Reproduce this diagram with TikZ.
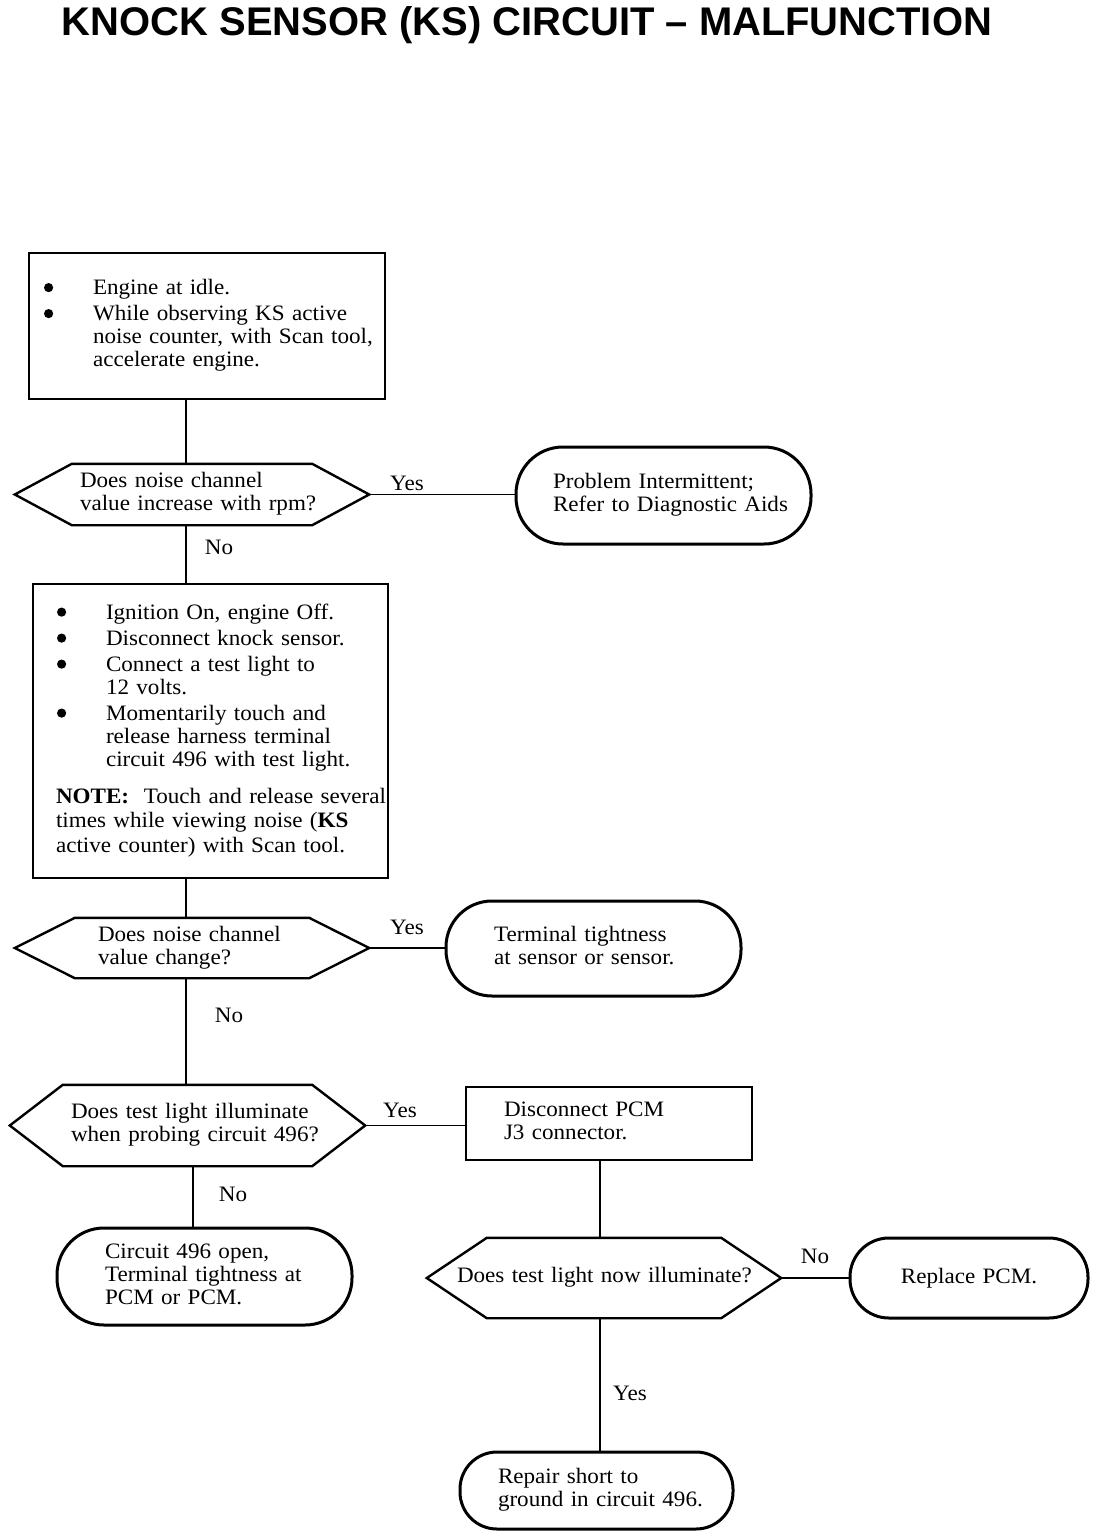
\documentclass[tikz,border=0pt]{standalone}
\usepackage{fontspec}
\setmainfont{Liberation Serif}[FakeStretch=1.05]
\newfontfamily\titlefont{Liberation Sans}
\usepackage{graphicx}
\newcommand\lns[1]{\begin{tabular}[c]{@{}l@{}}#1\end{tabular}}
\newcommand\bul{\makebox[50pt][l]{\hspace*{1pt}\tikz[baseline=-7pt]\fill (0pt,0pt) circle (4.6pt);}}
\newcommand\ind{\hspace*{50pt}}
\begin{document}
\begin{tikzpicture}[x=1pt,y=-1pt,
  every node/.style={font=\fontsize{22}{23}\selectfont},
  conn/.style={line width=1.3pt},
  boxnode/.style={draw, line width=2.4pt, rectangle, inner ysep=0pt, align=left},
  hexnode/.style={inner ysep=0pt, align=left},
  termnode/.style={draw, line width=3pt, rounded corners=#1, inner ysep=0pt, align=left},
  lbl/.style={inner sep=0pt}
]
\useasboundingbox (0,0) rectangle (1104,1536);

\node[font=\titlefont\bfseries\fontsize{40}{40}\selectfont, anchor=base, inner sep=0pt] (title) at (527,36)
  {\resizebox{930pt}{\height}{KNOCK SENSOR (KS) CIRCUIT – MALFUNCTION}};

% spines
\coordinate (spineA) at (186,0);
\coordinate (spineB) at (193,0);
\coordinate (spineC) at (600,0);

% nodes
\node[boxnode, minimum width=356pt, minimum height=146pt, inner xsep=14pt, text width=328pt] (b1) at (207,326)
  {\lns{\bul Engine at idle.\\[3pt]
        \bul While observing KS active\\
        \ind noise counter, with Scan tool,\\
        \ind accelerate engine.}};

\node[hexnode, minimum width=354pt, minimum height=61pt, inner xsep=65pt, text width=224pt] (d1) at (192,494.5)
  {\lns{Does noise channel\\ value increase with rpm?}};

\node[termnode=47pt, minimum width=295pt, minimum height=97pt, inner xsep=37pt, text width=221pt] (t1) at (663.5,495.5)
  {\lns{Problem Intermittent;\\ Refer to Diagnostic Aids}};

\node[boxnode, minimum width=355pt, minimum height=294pt, inner xsep=23pt, text width=309pt] (b2) at (210.5,731)
  {\lns{\bul Ignition On, engine Off.\\[3pt]
        \bul Disconnect knock sensor.\\[3pt]
        \bul Connect a test light to\\
        \ind 12 volts.\\[3pt]
        \bul Momentarily touch and\\
        \ind release harness terminal\\
        \ind circuit 496 with test light.\\[14pt]
        \textbf{NOTE:}\ \ Touch and release several\\[1.5pt]
        times while viewing noise (\textbf{KS}\\[1.5pt]
        active counter) with Scan tool.}};

\node[hexnode, minimum width=354pt, minimum height=60pt, inner xsep=83pt, text width=188pt] (d2) at (192,948)
  {\lns{Does noise channel\\ value change?}};

\node[termnode=46pt, minimum width=295pt, minimum height=95pt, inner xsep=48pt, text width=199pt] (t2) at (593.5,948.5)
  {\lns{Terminal tightness\\ at sensor or sensor.}};

\node[hexnode, minimum width=355pt, minimum height=81pt, inner xsep=61pt, text width=233pt] (d3) at (187.5,1125.5)
  {\lns{Does test light illuminate\\ when probing circuit 496?}};

\node[boxnode, minimum width=286pt, minimum height=73pt, inner xsep=38pt, text width=210pt] (b3) at (609,1123.5)
  {\lns{Disconnect PCM\\ J3 connector.}};

\node[termnode=47pt, minimum width=295pt, minimum height=97pt, inner xsep=48pt, text width=199pt] (t3) at (204.5,1276.5)
  {\lns{Circuit 496 open,\\ Terminal tightness at\\ PCM or PCM.}};

\node[hexnode, minimum width=354pt, minimum height=80pt, inner xsep=30pt, text width=294pt] (d4) at (604,1278)
  {\lns{Does test light now illuminate?}};

\node[termnode=39pt, minimum width=238pt, minimum height=80pt, inner xsep=20pt, text width=198pt, align=center] (t4) at (969,1278)
  {Replace PCM.};

\node[termnode=37pt, minimum width=273pt, minimum height=77pt, inner xsep=38pt, text width=197pt] (t5) at (596.5,1490.5)
  {\lns{Repair short to\\ ground in circuit 496.}};

% hexagon outlines
\foreach \n/\d in {d1/57,d2/60,d3/53,d4/60}
  \draw[line width=2.4pt, line join=miter]
    (\n.west) -- ([xshift=\d pt]\n.north west) -- ([xshift=-\d pt]\n.north east)
    -- (\n.east) -- ([xshift=-\d pt]\n.south east) -- ([xshift=\d pt]\n.south west) -- cycle;

% connectors
\draw[conn] (b1.south -| spineA) -- (d1.north -| spineA);
\draw[conn] (d1.south -| spineA) -- (b2.north -| spineA);
\draw[conn] (b2.south -| spineA) -- (d2.north -| spineA);
\draw[conn] (d2.south -| spineA) -- (d3.north -| spineA);
\draw[conn] (d3.south -| spineB) -- (t3.north -| spineB);
\draw[conn] (b3.south -| spineC) -- (d4.north -| spineC);
\draw[conn] (d4.south -| spineC) -- (t5.north -| spineC);
\draw[conn] (d1.east) -- (d1.east -| t1.west);
\draw[conn] (d2.east) -- (d2.east -| t2.west);
\draw[conn] (d3.east) -- (d3.east -| b3.west);
\draw[conn] (d4.east) -- (d4.east -| t4.west);

% labels
\node[lbl] (y1) at (407,483) {Yes};
\node[lbl] (n1) at (219,547) {No};
\node[lbl] (y2) at (407,927) {Yes};
\node[lbl] (n2) at (229,1015) {No};
\node[lbl] (y3) at (400,1110) {Yes};
\node[lbl] (n3) at (233,1194) {No};
\node[lbl] (n4) at (815,1256) {No};
\node[lbl] (y4) at (630,1393) {Yes};
\end{tikzpicture}
\end{document}
